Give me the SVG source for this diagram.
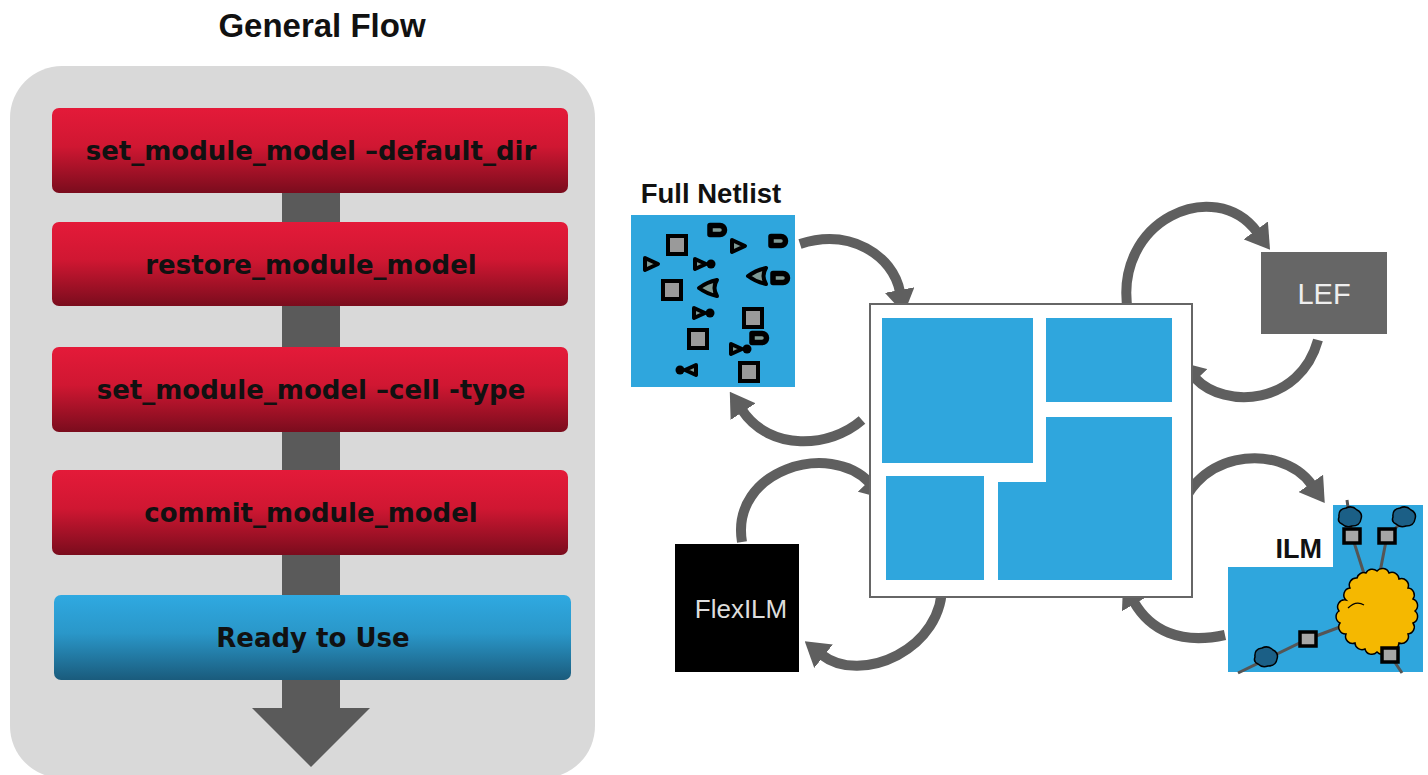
<svg xmlns="http://www.w3.org/2000/svg" width="1428" height="775" viewBox="0 0 1428 775">
  <defs>
    <linearGradient id="redGrad" x1="0" y1="0" x2="0" y2="1">
      <stop offset="0" stop-color="#e41a39"/>
      <stop offset="0.45" stop-color="#d01732"/>
      <stop offset="1" stop-color="#7a0c1d"/>
    </linearGradient>
    <linearGradient id="blueGrad" x1="0" y1="0" x2="0" y2="1">
      <stop offset="0" stop-color="#2fa9e1"/>
      <stop offset="0.45" stop-color="#2a97c9"/>
      <stop offset="1" stop-color="#1a5b7c"/>
    </linearGradient>
    <marker id="head" markerUnits="userSpaceOnUse" viewBox="0 0 24 30" refX="2" refY="15" markerWidth="24" markerHeight="30" orient="auto">
      <path d="M0,0 L24,15 L0,30 Z" fill="#5f5f5f"/>
    </marker>
    <!-- netlist cell glyphs -->
    <rect id="cellSq" x="-9" y="-9" width="18" height="18" fill="#9a9a9a" stroke="#000" stroke-width="4"/>
    <polygon id="cellBuf" points="-6,-6 7,0 -6,6" fill="#7f9a94" stroke="#000" stroke-width="4" stroke-linejoin="round"/>
    <g id="cellInv">
      <polygon points="-10,-5 1,0 -10,5" fill="#7f9a94" stroke="#000" stroke-width="4" stroke-linejoin="round"/>
      <circle cx="6" cy="0" r="4.5" fill="#000"/>
    </g>
    <path id="cellAnd" d="M-9,-4.5 H1 A4.5,4.5 0 0 1 1,4.5 H-9 Z" fill="#7f9a94" stroke="#000" stroke-width="5.5" stroke-linejoin="round"/>
    <path id="cellOr" d="M9,-8 Q-1,-6 -9,0 Q-1,6 9,8 Q4,0 9,-8 Z" fill="#7f9a94" stroke="#000" stroke-width="4" stroke-linejoin="round"/>
    <path id="blob" d="M-11,0 Q-12,-8 -4,-9 Q2,-12 7,-7 Q13,-4 11,2 Q10,9 2,9 Q-4,11 -8,7 Q-13,5 -11,0 Z" fill="#1b5f86" stroke="#000" stroke-width="1.5"/>
    <rect id="pinSq" x="-8" y="-7" width="16" height="14" fill="#a6a6a6" stroke="#000" stroke-width="3.5"/>
  </defs>
  <style>
    .title { font-family: "Liberation Sans", Arial, sans-serif; font-weight: bold; fill: #111; }
    .step { font-family: "DejaVu Sans", "Liberation Sans", sans-serif; font-weight: bold; font-size: 26px; fill: #111; text-anchor: middle; }
    .light { font-family: "Liberation Sans", Arial, sans-serif; text-anchor: middle; }
    .conn { fill: none; stroke: #5f5f5f; stroke-width: 10; marker-end: url(#head); }
    .blk { fill: #2fa6dd; }
    .wire { stroke: #555; stroke-width: 3; fill: none; }
  </style>

  <rect width="1428" height="775" fill="#fff"/>

  <!-- General flow panel -->
  <g id="flow-panel">
    <text class="title" x="322" y="37" font-size="33" text-anchor="middle">General Flow</text>
    <rect x="10" y="66" width="585" height="712" rx="52" fill="#d9d9d9"/>
    <rect x="282" y="190" width="58" height="520" fill="#5a5a5a"/>
    <polygon points="252,708 370,708 311,767" fill="#5a5a5a"/>
  </g>

  <g id="step-default-dir">
    <rect x="52" y="108" width="516" height="85" rx="7" fill="url(#redGrad)"/>
    <text class="step" x="311" y="160">set_module_model –default_dir</text>
  </g>
  <g id="step-restore">
    <rect x="52" y="222" width="516" height="84" rx="7" fill="url(#redGrad)"/>
    <text class="step" x="311" y="274">restore_module_model</text>
  </g>
  <g id="step-cell-type">
    <rect x="52" y="347" width="516" height="85" rx="7" fill="url(#redGrad)"/>
    <text class="step" x="311" y="399">set_module_model –cell -type</text>
  </g>
  <g id="step-commit">
    <rect x="52" y="470" width="516" height="85" rx="7" fill="url(#redGrad)"/>
    <text class="step" x="311" y="522">commit_module_model</text>
  </g>
  <g id="step-ready">
    <rect x="54" y="595" width="517" height="85" rx="7" fill="url(#blueGrad)"/>
    <text class="step" x="313" y="647">Ready to Use</text>
  </g>

  <!-- connectors -->
  <g id="connectors">
    <path class="conn" d="M800,244 C850,228 893,255 900,292"/>
    <path class="conn" d="M862,420 C830,448 770,452 742,410"/>
    <path class="conn" d="M1128,312 C1112,220 1215,175 1257,232"/>
    <path class="conn" d="M1318,340 C1300,405 1225,410 1195,378"/>
    <path class="conn" d="M742,542 C730,470 830,440 870,483"/>
    <path class="conn" d="M942,582 C945,650 860,685 822,655"/>
    <path class="conn" d="M1177,528 C1185,450 1280,440 1312,485"/>
    <path class="conn" d="M1225,635 C1180,645 1150,630 1134,602"/>
  </g>

  <!-- Full netlist -->
  <g id="full-netlist">
    <text class="title" x="711" y="203" font-size="27.5" text-anchor="middle">Full Netlist</text>
    <rect x="631" y="215" width="164" height="172" fill="#2fa6dd"/>
    <use href="#cellSq" x="677" y="245"/>
    <use href="#cellSq" x="672" y="290"/>
    <use href="#cellSq" x="753" y="318"/>
    <use href="#cellSq" x="698" y="339"/>
    <use href="#cellSq" x="749" y="372"/>
    <use href="#cellAnd" x="719" y="230"/>
    <use href="#cellAnd" x="780" y="241"/>
    <use href="#cellAnd" x="782" y="278"/>
    <use href="#cellAnd" x="761" y="338"/>
    <use href="#cellBuf" x="738" y="246"/>
    <use href="#cellBuf" x="651" y="264"/>
    <use href="#cellInv" x="705" y="264"/>
    <use href="#cellInv" x="704" y="313"/>
    <use href="#cellInv" x="741" y="349"/>
    <use href="#cellOr" x="708" y="288"/>
    <use href="#cellOr" x="757" y="276"/>
    <use href="#cellInv" transform="translate(686,370) scale(-1,1)"/>
  </g>

  <!-- floorplan -->
  <g id="floorplan">
    <rect x="870" y="304" width="322" height="293" fill="#fff" stroke="#666" stroke-width="2"/>
    <rect class="blk" x="882" y="318" width="151" height="145"/>
    <rect class="blk" x="1046" y="318" width="126" height="84"/>
    <rect class="blk" x="886" y="476" width="98" height="104"/>
    <polygon class="blk" points="998,482 1046,482 1046,417 1172,417 1172,580 998,580"/>
  </g>

  <!-- LEF -->
  <g id="lef">
    <rect x="1261" y="252" width="126" height="82" fill="#666"/>
    <text class="light" x="1324" y="304" font-size="29" fill="#eee">LEF</text>
  </g>

  <!-- FlexILM -->
  <g id="flexilm">
    <rect x="675" y="544" width="124" height="128" fill="#000"/>
    <text class="light" x="741" y="618" font-size="26" fill="#ddd">FlexILM</text>
  </g>

  <!-- ILM -->
  <g id="ilm">
    <polygon points="1228,567 1333,567 1333,505 1423,505 1423,672 1228,672" fill="#2fa6dd"/>
    <text class="title" x="1322" y="558" font-size="27" text-anchor="end">ILM</text>
    <path class="wire" d="M1347,500 L1352,536 L1366,580"/>
    <path class="wire" d="M1400,524 L1387,536 L1380,572"/>
    <path class="wire" d="M1340,627 L1308,639 L1238,673"/>
    <path class="wire" d="M1373,640 L1390,655 L1402,673"/>
    <!-- core logic cloud -->
    <path d="M1415,611 A7,7 0 0 1 1413,623 A7,7 0 0 1 1408,634 A7,7 0 0 1 1399,643 A7,7 0 0 1 1389,649 A7,7 0 0 1 1377,652 A7,7 0 0 1 1365,649 A7,7 0 0 1 1355,643 A7,7 0 0 1 1346,634 A7,7 0 0 1 1340,623 A7,7 0 0 1 1339,611 A7,7 0 0 1 1346,600 A7,7 0 0 1 1350,588 A7,7 0 0 1 1357,578 A7,7 0 0 1 1366,573 A7,7 0 0 1 1377,571 A7,7 0 0 1 1389,573 A7,7 0 0 1 1399,579 A7,7 0 0 1 1408,588 A7,7 0 0 1 1413,599 A7,7 0 0 1 1415,611 Z" fill="#f5b800" stroke="#000" stroke-width="1.5"/>
    <path d="M1348,608 Q1356,600 1364,605" fill="none" stroke="#000" stroke-width="1.2"/>
    <use href="#blob" x="1350" y="517"/>
    <use href="#blob" x="1404" y="517"/>
    <use href="#blob" x="1266" y="657"/>
    <use href="#pinSq" x="1352" y="536"/>
    <use href="#pinSq" x="1387" y="536"/>
    <use href="#pinSq" x="1308" y="639"/>
    <use href="#pinSq" x="1390" y="655"/>
  </g>
</svg>
